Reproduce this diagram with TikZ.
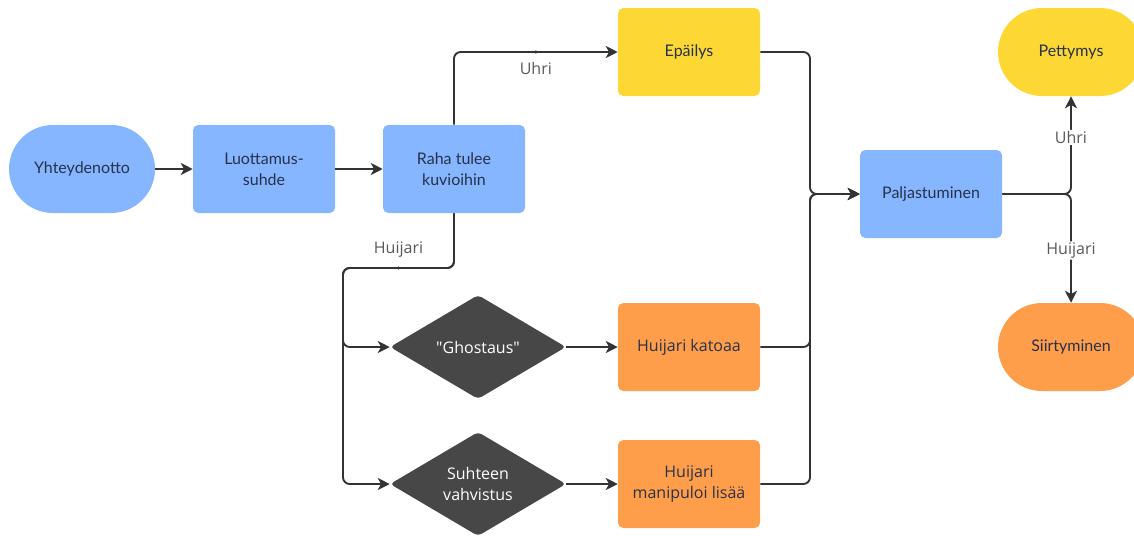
\documentclass[tikz,border=0pt]{standalone}
\usepackage{fontspec}
\setmainfont{Lato}
\newfontfamily\opensans{Open Sans}
\usetikzlibrary{shapes.geometric}
\usetikzlibrary{arrows.meta}
\definecolor{stepblue}{HTML}{85B6FF}
\definecolor{stepyellow}{HTML}{FDD835}
\definecolor{steporange}{HTML}{FF9E4A}
\definecolor{stepdark}{HTML}{474747}
\definecolor{linegray}{HTML}{333333}
\definecolor{inkdark}{HTML}{27324A}

\begin{document}
\begin{tikzpicture}[x=0.75pt,y=-0.75pt,
		box/.style={rectangle, rounded corners=4pt, minimum width=106.5pt, minimum height=66pt, align=center, text=inkdark, font=\fontsize{12}{15.5}\selectfont, fill=stepblue},
		stadium/.style={box, rounded corners=33pt, minimum width=109.5pt},
		diam/.style={diamond, rounded corners=3pt, minimum width=132pt, minimum height=78pt, inner sep=0pt, aspect=1.7, fill=stepdark, text=white, align=center, font=\opensans\fontsize{12}{16}\selectfont},
		flow/.style={draw=linegray, line width=1.4pt, -{Stealth[length=9pt,width=9pt,inset=2.5pt]}},
		elbow/.style={flow, rounded corners=5pt},
		branch/.style={text=black!65, font=\opensans\fontsize{12}{14}\selectfont},
		dot/.style={circle, fill=linegray, inner sep=0pt, minimum size=2.5pt}]
		\useasboundingbox (0,0) rectangle (1134,536);
		
		\node[stadium] (contact) at (82,169) {Yhteydenotto};
		\node[box] (trust) at (264,169) {Luottamus-\\suhde};
		\node[box] (money) at (454,169) {Raha tulee\\kuvioihin};
		\node[box, fill=stepyellow] (doubt) at (689,52) {Epäilys};
		\node[diam] (ghost) at (478,347) {"Ghostaus"};
		\node[diam] (confirm) at (478,484) {Suhteen\\vahvistus};
		\node[box, fill=steporange, font=\opensans\fontsize{12}{16}\selectfont] (vanish) at (689,347) {Huijari katoaa};
		\node[box, fill=steporange, font=\opensans\fontsize{12}{16}\selectfont] (manip) at (689,484) {Huijari\\manipuloi lisää};
		\node[box] (reveal) at (931,194) {Paljastuminen};
		\node[stadium, fill=stepyellow] (letdown) at (1071,52) {Pettymys};
		\node[stadium, fill=steporange] (move) at (1071,347) {Siirtyminen};
		
		\coordinate (split) at (343,268);
		\coordinate (merge) at (810,194);
		
		\draw[flow] (contact) -- (trust);
		\draw[flow] (trust) -- (money);
		
		% uhri / huijari branches
		\draw[elbow] (money.north) |- node[pos=0.75, dot] {} node[pos=0.75, below=4pt, branch] {Uhri} (doubt.west);
		\draw[elbow] (money.south) |- node[pos=0.75, dot] {} node[pos=0.75, above=4pt, branch] {Huijari} (split) |- (ghost.west);
		\draw[elbow] (money.south) |- (split) |- (confirm.west);
		
		\draw[flow] (ghost) -- (vanish);
		\draw[flow] (confirm) -- (manip);
		
		% everything ends in paljastuminen
		\draw[elbow] (doubt.east) -| (merge) -- (reveal.west);
		\draw[elbow] (vanish.east) -| (merge) -- (reveal.west);
		\draw[elbow] (manip.east) -| (merge) -- (reveal.west);
		
		\draw[elbow] (reveal.east) -| node[pos=0.79, fill=white, inner sep=1pt, branch] {Uhri} (letdown.south);
		\draw[elbow] (reveal.east) -| node[pos=0.76, fill=white, inner sep=1pt, branch] {Huijari} (move.north);
\end{tikzpicture}
\end{document}
